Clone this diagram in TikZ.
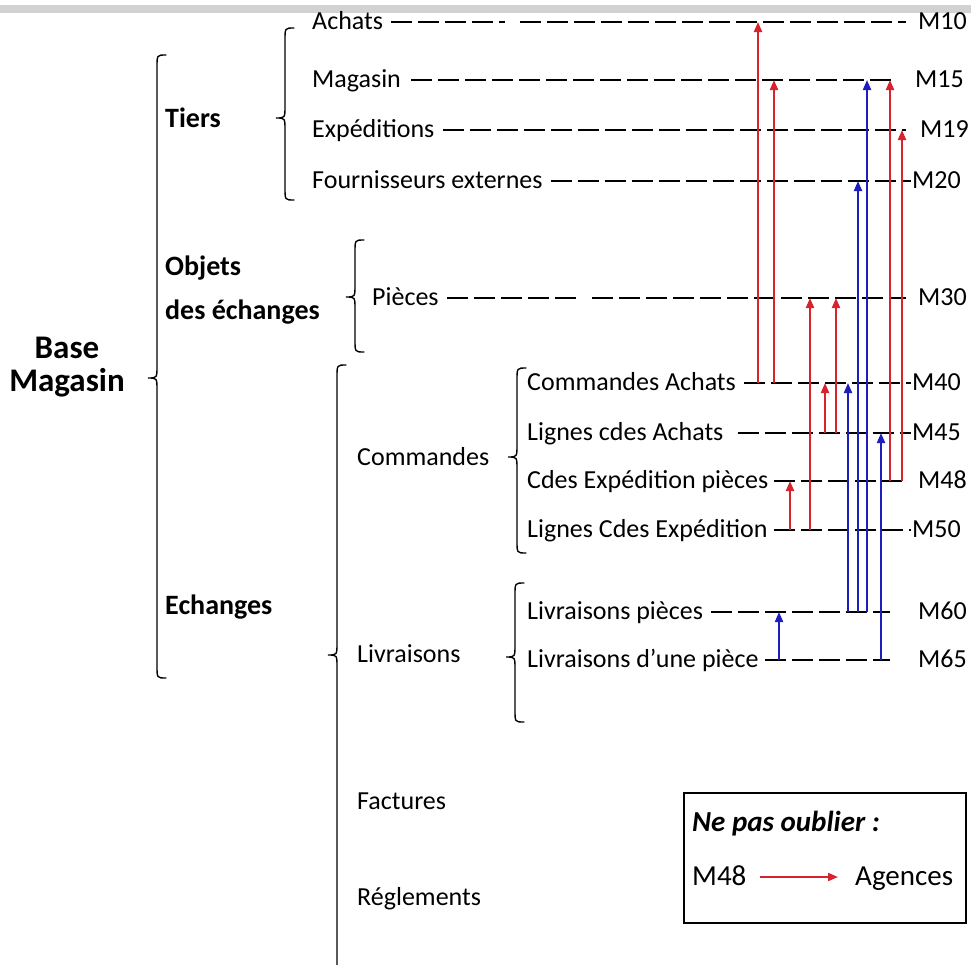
\documentclass[tikz,border=0pt]{standalone}
\usepackage{fontspec}
\setmainfont{Carlito}
\usetikzlibrary{arrows.meta,calc}
\definecolor{linkred}{RGB}{214,35,45}
\definecolor{linkblue}{RGB}{30,30,190}
\definecolor{barfill}{RGB}{210,210,210}
% left curly brace: spine x, top y, tip y, bottom y
\newcommand\curlybrace[4]{%
  \draw[bracestyle] (#1+9,#2) .. controls (#1,#2) .. (#1,#2+12) -- (#1,#3-12)
    .. controls (#1,#3) .. (#1-9,#3) .. controls (#1,#3) .. (#1,#3+12)
    -- (#1,#4-12) .. controls (#1,#4) .. (#1+9,#4);}
\begin{document}
\begin{tikzpicture}[x=1pt,y=-1pt,
  % the west/east anchors sit 7pt above the baseline, where the leaders run
  txt/.style={anchor=west, inner sep=0pt, text height=17pt, text depth=3pt,
    font=\fontsize{26}{30}\selectfont},
  head/.style={anchor=west, inner sep=0pt, text height=18pt, text depth=3pt,
    font=\fontsize{28}{32}\selectfont\bfseries},
  boxtxt/.style={anchor=west, inner sep=0pt, text height=19pt, text depth=3pt,
    font=\fontsize{29}{32}\selectfont},
  title/.style={inner sep=0pt, align=center, font=\fontsize{33}{33}\selectfont\bfseries},
  dashline/.style={line width=2pt, dash pattern=on 21pt off 6pt},
  bracestyle/.style={line width=1.4pt, line cap=round},
  redarrow/.style={draw=linkred, line width=2pt, -{Triangle[length=10pt,width=8pt]}},
  bluearrow/.style={draw=linkblue, line width=2pt, -{Triangle[length=10pt,width=8pt]}},
]
\clip (0,0) rectangle (971,964);
\fill[white] (0,0) rectangle (971,964);
\fill[barfill] (0,5) rectangle (971,13);

% hierarchy labels
\node[title] (base) at (67,367) {Base\\Magasin};
\node[head] (tiers) at (165,120) {Tiers};
\node[head] (objets) at (165,268) {Objets};
\node[head] (desech) at (165,312) {des échanges};
\node[head] (echanges) at (165,607) {Echanges};
\node[txt] (commandes) at (357,458) {Commandes};
\node[txt] (livraisons) at (357,655) {Livraisons};
\node[txt] (factures) at (357,802) {Factures};
\node[txt] (reglements) at (357,898) {Réglements};

% tables
\node[txt] (achats) at (312,22) {Achats};
\node[txt] (magasin) at (312,80) {Magasin};
\node[txt] (exped) at (312,130) {Expéditions};
\node[txt] (fourn) at (312,181) {Fournisseurs externes};
\node[txt] (pieces) at (372,298) {Pièces};
\node[txt] (cdach) at (527,383) {Commandes Achats};
\node[txt] (lgach) at (527,433) {Lignes cdes Achats};
\node[txt] (cdexp) at (527,481) {Cdes Expédition pièces};
\node[txt] (lgexp) at (527,530) {Lignes Cdes Expédition};
\node[txt] (livp) at (527,612) {Livraisons pièces};
\node[txt] (liv1) at (527,660) {Livraisons d’une pièce};

% table codes
\node[txt] (m10) at (918,22) {M10};
\node[txt] (m15) at (915,80) {M15};
\node[txt] (m19) at (920,130) {M19};
\node[txt] (m20) at (912,181) {M20};
\node[txt] (m30) at (918,298) {M30};
\node[txt] (m40) at (912,383) {M40};
\node[txt] (m45) at (912,433) {M45};
\node[txt] (m48) at (918,481) {M48};
\node[txt] (m50) at (912,530) {M50};
\node[txt] (m60) at (918,612) {M60};
\node[txt] (m65) at (918,660) {M65};

% braces
\curlybrace{157}{55}{378}{678}
\curlybrace{285}{28}{118}{200}
\curlybrace{355}{240}{297}{352}
\curlybrace{337}{365}{655}{990}
\curlybrace{517}{368}{457}{553}
\curlybrace{515}{583}{657}{722}

% leaders from tables to codes
\draw[dashline] ([xshift=8]achats.east) -- (505,0 |- achats.east);
\draw[dashline] (520,0 |- achats.east) -- ([xshift=-12]m10.west);
\draw[dashline] ([xshift=10]magasin.east) -- ([xshift=-18]m15.west);
\draw[dashline] ([xshift=8]exped.east) -- ([xshift=-14]m19.west);
\draw[dashline] ([xshift=8]fourn.east) -- ([xshift=-1]m20.west);
\draw[dashline] ([xshift=8]pieces.east) -- (578,0 |- pieces.east);
\draw[dashline] (592,0 |- pieces.east) -- ([xshift=-12]m30.west);
\draw[dashline] ([xshift=8]cdach.east) -- ([xshift=-1]m40.west);
\draw[dashline] ([xshift=14]lgach.east) -- ([xshift=-1]m45.west);
\draw[dashline] ([xshift=6]cdexp.east) -- ([xshift=-16]m48.west);
\draw[dashline] ([xshift=6]lgexp.east) -- ([xshift=-1]m50.west);
\draw[dashline] ([xshift=8]livp.east) -- ([xshift=-28]m60.west);
\draw[dashline] ([xshift=6]liv1.east) -- ([xshift=-28]m65.west);

% references (red)
\draw[redarrow] (758,0 |- m40.west) -- (758,0 |- m10.west);
\draw[redarrow] (774,0 |- m40.west) -- (774,0 |- m15.west);
\draw[redarrow] (810,0 |- m50.west) -- (810,0 |- m30.west);
\draw[redarrow] (836,0 |- m45.west) -- (836,0 |- m30.west);
\draw[redarrow] (825,0 |- m45.west) -- (825,0 |- m40.west);
\draw[redarrow] (790,0 |- m50.west) -- (790,0 |- m48.west);
\draw[redarrow] (890,0 |- m48.west) -- (890,0 |- m15.west);
\draw[redarrow] (902,0 |- m48.west) -- (902,0 |- m19.west);

% references (blue)
\draw[bluearrow] (848,0 |- m60.west) -- (848,0 |- m40.west);
\draw[bluearrow] (858,0 |- m60.west) -- (858,0 |- m20.west);
\draw[bluearrow] (867,0 |- m60.west) -- (867,0 |- m15.west);
\draw[bluearrow] (881,0 |- m65.west) -- (881,0 |- m45.west);
\draw[bluearrow] (779,0 |- m65.west) -- (779,0 |- m60.west);

% reminder box
\node[draw, line width=1.5pt, anchor=north west, minimum width=282pt, minimum height=130pt, inner sep=0pt] (legend) at (683,792) {};
\node[boxtxt, font=\fontsize{29}{32}\selectfont\bfseries\itshape] (note) at (692,823) {Ne pas oublier :};
\node[boxtxt] (lm48) at (692,877) {M48};
\node[boxtxt] (agences) at (855,877) {Agences};
\draw[redarrow] ([xshift=13]lm48.east) -- ([xshift=-17]agences.west);
\end{tikzpicture}
\end{document}
